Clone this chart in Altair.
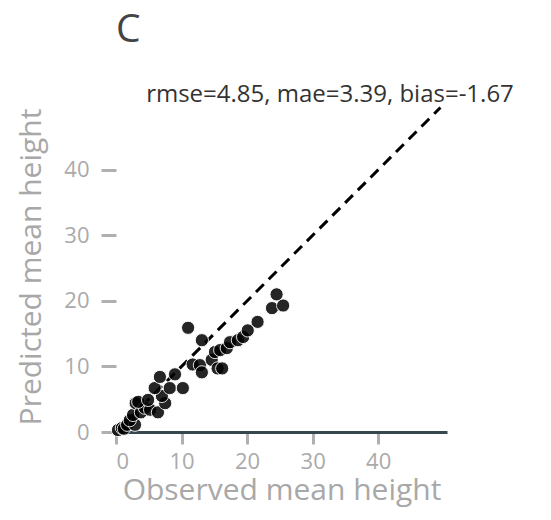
import altair as alt
import pandas as pd

observed = [0.3, 0.9, 1.2, 1.7, 2.9, 2.1, 2.6, 3.0, 3.8, 4.4, 5.2, 6.4, 3.4, 4.9, 7.5, 7.0,
            5.9, 8.2, 10.2, 6.7, 9.0, 11.7, 12.8, 13.1, 14.6, 15.5, 16.2, 11.0, 13.1,
            15.1, 15.9, 16.9, 17.4, 18.6, 19.4, 20.1, 21.6, 23.8, 25.5, 24.5]
predicted = [0.3, 0.6, 0.5, 1.1, 1.1, 1.8, 2.6, 4.4, 3.0, 3.7, 3.4, 3.0, 4.6, 4.9, 4.4, 5.5,
             6.7, 6.7, 6.7, 8.4, 8.8, 10.3, 10.2, 9.1, 11.0, 9.7, 9.7, 15.9, 14.0,
             12.2, 12.5, 12.8, 13.7, 14.0, 14.5, 15.5, 16.8, 18.9, 19.3, 21.0]
line_x = [0, 49.5]
line_y = [0, 49.5]
ticks = [0, 10, 20, 30, 40]
annotation = "rmse=4.85, mae=3.39, bias=-1.67"

FONT = "Open Sans"
pts = pd.DataFrame({"obs": observed, "pred": predicted})
ln = pd.DataFrame({"obs": line_x, "pred": line_y})

xs = alt.Scale(domain=[0, 50.5], nice=False, zero=False)
ys = alt.Scale(domain=[0, 50.5], nice=False, zero=False)

xaxis = alt.Axis(values=ticks, grid=False, domain=True, domainColor="#37474f", domainWidth=3,
                 tickColor="#b0b0b0", tickWidth=3, tickSize=12, labelPadding=7,
                 labelColor="#aaaaaa", labelFontSize=22, labelFont=FONT,
                 title="Observed mean height", titleFont=FONT, titleFontSize=30,
                 titleFontWeight="normal", titleColor="#a8a8a8", titlePadding=3)
yaxis = alt.Axis(values=ticks, grid=False, domain=False,
                 tickColor="#b0b0b0", tickWidth=3, tickSize=15, labelPadding=12,
                 labelColor="#aaaaaa", labelFontSize=22, labelFont=FONT,
                 title="Predicted mean height", titleFont=FONT, titleFontSize=30,
                 titleFontWeight="normal", titleColor="#a8a8a8", titlePadding=17)

line = alt.Chart(ln).mark_line(color="black", strokeWidth=3, strokeDash=[11, 7], clip=False).encode(
    x=alt.X("obs:Q", scale=xs, axis=xaxis),
    y=alt.Y("pred:Q", scale=ys, axis=yaxis),
)
points = alt.Chart(pts).mark_circle(size=175, color="black", opacity=0.85,
                                    stroke="white", strokeWidth=1).encode(
    x=alt.X("obs:Q", scale=xs),
    y=alt.Y("pred:Q", scale=ys),
)
text = alt.Chart(pd.DataFrame({"t": [annotation]})).mark_text(
    align="center", baseline="alphabetic", fontSize=24, font=FONT, color="#333333"
).encode(x=alt.value(214), y=alt.value(1), text="t:N")

chart = alt.layer(line, points, text).properties(
    width=331, height=331,
    title=alt.TitleParams("C", anchor="start", frame="group", fontSize=39, font=FONT,
                          fontWeight="normal", color="#444444", offset=33),
    autosize=alt.AutoSizeParams(type="none"),
    padding={"left": 108, "top": 93, "right": 96, "bottom": 80},
).configure_view(stroke=None)

chart.save("out.html", embed_options={"renderer": "svg", "actions": False})
